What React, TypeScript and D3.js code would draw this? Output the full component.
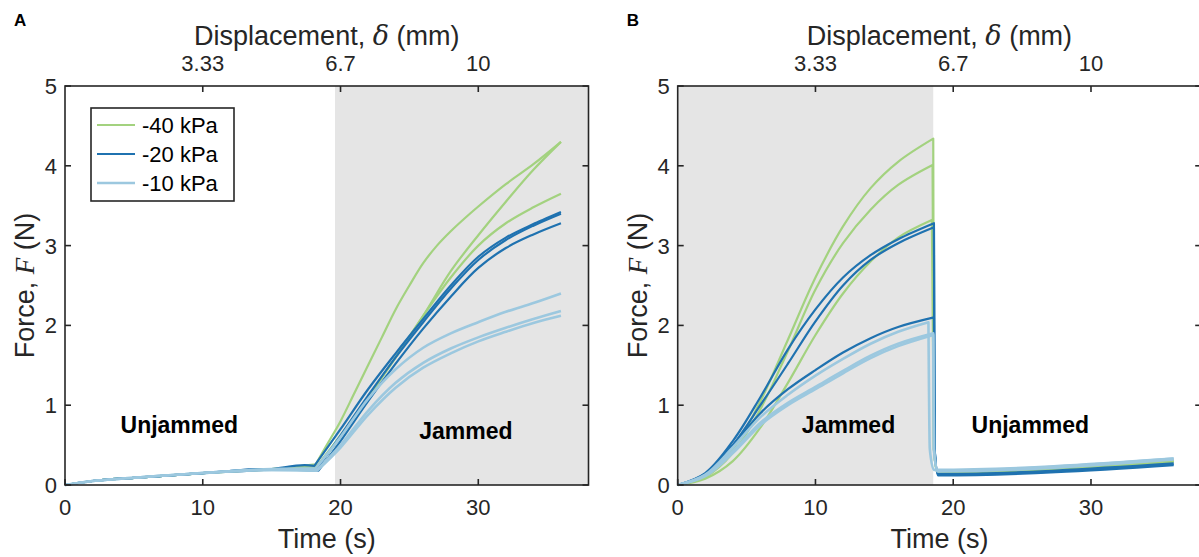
import React from "react";
import * as d3 from "d3";

// ---------- data ----------
const pressures = ["-40 kPa", "-20 kPa", "-10 kPa"];
const colors = ["#a3d27f", "#1f72b0", "#9cc8df"];
const timeTicks = [0, 10, 20, 30];
const forceTicks = [0, 1, 2, 3, 4, 5];
const dispTickTimes = [10, 20, 30];
const dispTickLabels = ["3.33", "6.7", "10"];
const timeMax = 38;
const forceMax = 5;
const jammedStartA = 19.6;
const jammedEndB = 18.55;
const kneeA = 18.5; // end of the unjammed ramp in panel A

// Panel A: unjammed -> jammed (time s, force N)
const A_m40: number[][][] = [
  [[0, 0], [2, 0.05], [5, 0.09], [10, 0.15], [15, 0.2], [18.2, 0.26], [19, 0.5], [20, 0.8], [21, 1.15], [22, 1.5], [23, 1.85], [24, 2.2], [25, 2.5], [26, 2.78], [27, 3.0], [28, 3.18], [29, 3.34], [30, 3.49], [32, 3.77], [34, 4.02], [36, 4.3]],
  [[0, 0], [2, 0.05], [5, 0.09], [10, 0.15], [15, 0.2], [18.3, 0.24], [20, 0.62], [22, 1.1], [24, 1.6], [26, 2.12], [28, 2.68], [30, 3.13], [32, 3.55], [34, 3.95], [36, 4.3]],
  [[0, 0], [2, 0.05], [5, 0.09], [10, 0.15], [15, 0.2], [18.3, 0.22], [20, 0.6], [22, 1.1], [24, 1.6], [26, 2.12], [28, 2.6], [30, 3.0], [32, 3.28], [34, 3.48], [36, 3.65]],
];
const A_m20: number[][][] = [
  [[0, 0], [2, 0.05], [5, 0.09], [10, 0.15], [15, 0.2], [17.4, 0.25], [18.1, 0.24], [20, 0.7], [22, 1.2], [24, 1.65], [26, 2.08], [28, 2.5], [30, 2.86], [32, 3.1], [34, 3.27], [36, 3.42]],
  [[0, 0], [2, 0.05], [5, 0.09], [10, 0.15], [15, 0.2], [18.3, 0.2], [20, 0.62], [22, 1.12], [24, 1.6], [26, 2.04], [28, 2.46], [30, 2.82], [32, 3.07], [34, 3.25], [36, 3.4]],
  [[0, 0], [2, 0.05], [5, 0.09], [10, 0.15], [15, 0.2], [18.4, 0.18], [20, 0.55], [22, 1.05], [24, 1.52], [26, 1.96], [28, 2.36], [30, 2.72], [32, 2.97], [34, 3.14], [36, 3.28]],
];
const A_m10: number[][][] = [
  [[0, 0], [2, 0.05], [5, 0.09], [10, 0.15], [15, 0.2], [18.2, 0.21], [20, 0.6], [22, 1.08], [24, 1.45], [26, 1.72], [28, 1.9], [30, 2.04], [32, 2.17], [34, 2.28], [36, 2.4]],
  [[0, 0], [2, 0.05], [5, 0.09], [10, 0.15], [15, 0.19], [18.3, 0.19], [20, 0.5], [22, 0.93], [24, 1.28], [26, 1.53], [28, 1.71], [30, 1.85], [32, 1.97], [34, 2.08], [36, 2.18]],
  [[0, 0], [2, 0.05], [5, 0.09], [10, 0.15], [15, 0.19], [18.3, 0.18], [20, 0.47], [22, 0.88], [24, 1.22], [26, 1.47], [28, 1.65], [30, 1.8], [32, 1.92], [34, 2.03], [36, 2.12]],
];

// Panel B: jammed -> unjammed
const B_m40: number[][][] = [
  [[0, 0], [2, 0.12], [4, 0.45], [6, 1.05], [8, 1.82], [10, 2.6], [12, 3.24], [14, 3.72], [16, 4.05], [18.55, 4.34], [18.6, 0.45], [18.85, 0.16], [36, 0.3]],
  [[0, 0], [2, 0.1], [4, 0.4], [6, 0.95], [8, 1.68], [10, 2.45], [12, 3.03], [14, 3.45], [16, 3.76], [18.5, 4.01], [18.6, 0.45], [18.85, 0.16], [36, 0.3]],
  [[0, 0], [2, 0.08], [4, 0.3], [6, 0.72], [8, 1.28], [10, 1.88], [12, 2.4], [14, 2.8], [16, 3.1], [18.45, 3.32], [18.6, 0.45], [18.85, 0.16], [36, 0.29]],
];
const B_m20: number[][][] = [
  [[0, 0], [2, 0.15], [4, 0.55], [6, 1.1], [8, 1.7], [10, 2.2], [12, 2.6], [14, 2.88], [16, 3.08], [18.6, 3.28], [18.65, 0.45], [18.9, 0.13], [36, 0.26]],
  [[0, 0], [2, 0.13], [4, 0.5], [6, 1.0], [8, 1.52], [10, 2.05], [12, 2.5], [14, 2.82], [16, 3.03], [18.6, 3.23], [18.65, 0.45], [18.9, 0.12], [36, 0.25]],
  [[0, 0], [2, 0.14], [4, 0.5], [6, 0.9], [8, 1.2], [10, 1.44], [12, 1.66], [14, 1.84], [16, 1.98], [18.6, 2.1], [18.65, 0.45], [18.9, 0.14], [36, 0.27]],
];
const B_m10: number[][][] = [
  [[0, 0], [2, 0.13], [4, 0.47], [6, 0.85], [8, 1.13], [10, 1.37], [12, 1.58], [14, 1.77], [16, 1.92], [18.2, 2.04], [18.3, 0.45], [18.6, 0.19], [36, 0.33]],
  [[0, 0], [2, 0.12], [4, 0.42], [6, 0.78], [8, 1.03], [10, 1.23], [12, 1.43], [14, 1.62], [16, 1.77], [18.55, 1.9], [18.6, 0.45], [18.85, 0.18], [36, 0.33]],
  [[0, 0], [2, 0.11], [4, 0.4], [6, 0.75], [8, 1.0], [10, 1.2], [12, 1.4], [14, 1.59], [16, 1.74], [18.55, 1.88], [18.6, 0.45], [18.85, 0.17], [36, 0.32]],
];

// ---------- layout ----------
const W = 1199;
const H = 557;
const TOP = 86;
const BOTTOM = 485;
const PANEL_W = 523.5;
const ink = "#262626";
const font = "'Liberation Sans', Arial, Helvetica, sans-serif";

type PanelProps = {
  left: number;
  letter: string;
  groups: number[][][][];
  grayFrom: number;
  grayTo: number;
  texts: { label: string; t: number; f: number }[];
  legend: boolean;
  rampFirst: boolean;
};

function Panel({ left, letter, groups, grayFrom, grayTo, texts, legend, rampFirst }: PanelProps) {
  const x = d3.scaleLinear().domain([0, timeMax]).range([left, left + PANEL_W]);
  const y = d3.scaleLinear().domain([0, forceMax]).range([BOTTOM, TOP]);
  const smooth = d3
    .line<number[]>()
    .x((d) => x(d[0]))
    .y((d) => y(d[1]))
    .curve(d3.curveCatmullRom.alpha(0.5));
  const mono = d3
    .line<number[]>()
    .x((d) => x(d[0]))
    .y((d) => y(d[1]))
    .curve(d3.curveMonotoneX);
  const join = (a: string, b: string) => a + b.replace(/^M/, "L");
  const pathFor = (c: number[][]) => {
    if (rampFirst) {
      // slow unjammed ramp, then the smooth jammed rise
      let k = 0;
      c.forEach((d, i) => {
        if (d[0] <= kneeA) k = i;
      });
      return join(mono(c.slice(0, k + 1)) || "", smooth(c.slice(k)) || "");
    }
    // smooth jammed rise up to the peak, then the drop and tail
    const peak = d3.maxIndex(c, (d) => d[1]);
    return join(smooth(c.slice(0, peak + 1)) || "", mono(c.slice(peak)) || "");
  };
  const tickLen = 6;
  const midX = left + PANEL_W / 2;
  return (
    <g>
      <rect x={x(grayFrom)} y={TOP} width={x(grayTo) - x(grayFrom)} height={BOTTOM - TOP} fill="#e5e5e5" />
      {groups.map((grp, gi) =>
        grp.map((c, ci) => (
          <path
            key={`${gi}-${ci}`}
            d={pathFor(c)}
            fill="none"
            stroke={colors[gi]}
            strokeWidth={gi === 2 ? 2.6 : 2.2}
            strokeLinejoin="round"
          />
        ))
      )}
      {/* box */}
      <rect x={left} y={TOP} width={PANEL_W} height={BOTTOM - TOP} fill="none" stroke={ink} strokeWidth={1.6} />
      {/* bottom ticks */}
      {timeTicks.map((t) => (
        <g key={`bt${t}`}>
          <line x1={x(t)} x2={x(t)} y1={BOTTOM} y2={BOTTOM - tickLen} stroke={ink} strokeWidth={1.6} />
          <text x={x(t)} y={515} textAnchor="middle" fontSize={22} fill={ink} fontFamily={font}>
            {t}
          </text>
        </g>
      ))}
      {/* top ticks */}
      {dispTickTimes.map((t, i) => (
        <g key={`tt${t}`}>
          <line x1={x(t)} x2={x(t)} y1={TOP} y2={TOP + tickLen} stroke={ink} strokeWidth={1.6} />
          <text x={x(t)} y={71} textAnchor="middle" fontSize={22} fill={ink} fontFamily={font}>
            {dispTickLabels[i]}
          </text>
        </g>
      ))}
      {/* y ticks */}
      {forceTicks.map((f) => (
        <g key={`yt${f}`}>
          <line x1={left} x2={left + tickLen} y1={y(f)} y2={y(f)} stroke={ink} strokeWidth={1.6} />
          <line x1={left + PANEL_W} x2={left + PANEL_W - tickLen} y1={y(f)} y2={y(f)} stroke={ink} strokeWidth={1.6} />
          <text x={left - 8} y={y(f) + 8} textAnchor="end" fontSize={22} fill={ink} fontFamily={font}>
            {f}
          </text>
        </g>
      ))}
      {/* axis labels */}
      <text x={midX} y={548} textAnchor="middle" fontSize={27} fill={ink} fontFamily={font}>
        Time (s)
      </text>
      <text x={midX} y={45} textAnchor="middle" fontSize={27} fill={ink} fontFamily={font}>
        Displacement,{" "}
        <tspan fontFamily="'DejaVu Serif', 'Liberation Serif', serif" fontStyle="italic">
          δ
        </tspan>{" "}
        (mm)
      </text>
      <text
        transform={`translate(${left - 31},${(TOP + BOTTOM) / 2}) rotate(-90)`}
        textAnchor="middle"
        fontSize={27}
        fill={ink}
        fontFamily={font}
      >
        Force,{" "}
        <tspan fontFamily="'Liberation Serif', 'DejaVu Serif', serif" fontStyle="italic">
          F
        </tspan>{" "}
        (N)
      </text>
      <text x={left - 51} y={26} fontSize={17} fontWeight="bold" fill="#000" fontFamily={font}>
        {letter}
      </text>
      {texts.map((tx) => (
        <text
          key={tx.label}
          x={x(tx.t)}
          y={y(tx.f)}
          textAnchor="middle"
          fontSize={23}
          fontWeight="bold"
          fill="#000"
          fontFamily={font}
        >
          {tx.label}
        </text>
      ))}
      {legend && (
        <g>
          <rect x={left + 26} y={108} width={143} height={93} fill="#fff" stroke={ink} strokeWidth={1.6} />
          {pressures.map((p, i) => (
            <g key={p}>
              <line
                x1={left + 32}
                x2={left + 70}
                y1={125 + i * 29}
                y2={125 + i * 29}
                stroke={colors[i]}
                strokeWidth={i === 2 ? 2.6 : 2.2}
              />
              <text x={left + 77} y={125 + i * 29 + 8} fontSize={22} fill="#000" fontFamily={font}>
                {p}
              </text>
            </g>
          ))}
        </g>
      )}
    </g>
  );
}

export default function App() {
  return (
    <svg
      width={W}
      height={H}
      style={{ position: "absolute", left: 0, top: 0, background: "#fff" }}
    >
      <rect width={W} height={H} fill="#fff" />
      <Panel
        left={65}
        letter="A"
        groups={[A_m40, A_m20, A_m10]}
        grayFrom={jammedStartA}
        grayTo={timeMax}
        texts={[
          { label: "Unjammed", t: 8.3, f: 0.65 },
          { label: "Jammed", t: 29.1, f: 0.58 },
        ]}
        legend={true}
        rampFirst={true}
      />
      <Panel
        left={677.7}
        letter="B"
        groups={[B_m40, B_m20, B_m10]}
        grayFrom={0}
        grayTo={jammedEndB}
        texts={[
          { label: "Jammed", t: 12.4, f: 0.65 },
          { label: "Unjammed", t: 25.6, f: 0.65 },
        ]}
        legend={false}
        rampFirst={false}
      />
    </svg>
  );
}
